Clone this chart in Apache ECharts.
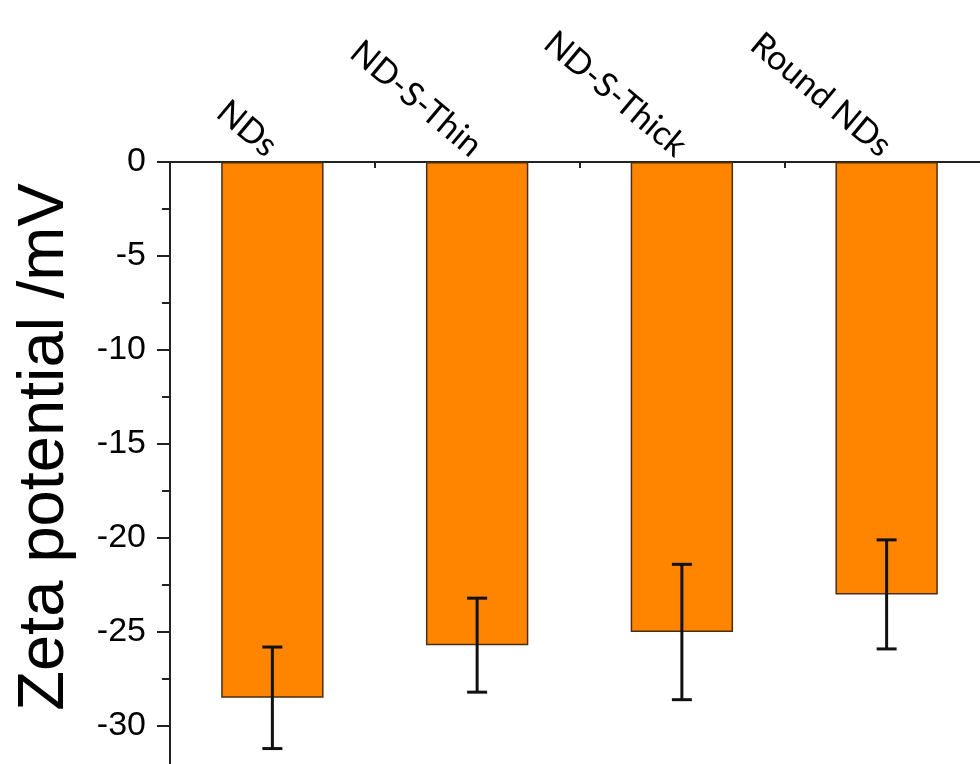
<!DOCTYPE html>
<html>
<head>
<meta charset="utf-8">
<script src="https://cdn.jsdelivr.net/npm/echarts@6/dist/echarts.min.js"></script>
<style>html,body{margin:0;padding:0;background:#fff}#c{width:980px;height:764px}</style>
</head>
<body>
<div id="c"></div>
<script>
const categories = ['NDs', 'ND-S-Thin', 'ND-S-Thick', 'Round NDs'];
const zetaMean = [-28.5, -25.7, -25.0, -23.0];
const zetaErr = [2.7, 2.5, 3.6, 2.9];
const yMin = -35, yMax = 0, yStep = 5;

const FONT = 'Liberation Sans, Arial, sans-serif';
const CAT_FONT = 'Lato, Open Sans, sans-serif';
const chart = echarts.init(document.getElementById('c'));
const errData = categories.map((c, i) => [i, zetaMean[i], zetaErr[i]]);

chart.setOption({
  animation: false,
  backgroundColor: '#fff',
  grid: { left: 170, top: 162, right: -9, bottom: -56, containLabel: false, outerBoundsMode: 'none' },
  xAxis: [{
    type: 'category', data: categories, position: 'top',
    axisLine: { onZero: false, lineStyle: { color: '#222', width: 2 } },
    axisTick: { show: true, inside: true, alignWithLabel: true, length: 13, lineStyle: { color: '#222', width: 2 } },
    axisLabel: { rotate: 40, margin: 12, fontSize: 34, color: '#000', fontFamily: CAT_FONT, interval: 0 },
    splitLine: { show: false }
  }, {
    type: 'category', data: categories, position: 'top', gridIndex: 0,
    axisLine: { show: false },
    axisTick: { show: true, inside: true, alignWithLabel: false, length: 6, lineStyle: { color: '#222', width: 2 } },
    axisLabel: { show: false },
    splitLine: { show: false }
  }],
  yAxis: {
    type: 'value', min: yMin, max: yMax, interval: yStep,
    name: 'Zeta potential /mV', nameLocation: 'middle', nameGap: 92, nameRotate: 90,
    nameTextStyle: { fontSize: 65, color: '#000', fontFamily: FONT, padding: [0, 0, 0, 88] },
    axisLine: { show: true, onZero: false, lineStyle: { color: '#222', width: 2 } },
    axisTick: { show: true, inside: false, length: 13, lineStyle: { color: '#222', width: 2 } },
    minorTick: { show: true, splitNumber: 2, length: 8, lineStyle: { color: '#222', width: 2 } },
    axisLabel: { fontSize: 34, color: '#000', fontFamily: FONT, margin: 24 },
    splitLine: { show: false }
  },
  series: [{
    type: 'bar', data: zetaMean, barWidth: '50%', xAxisIndex: 0,
    itemStyle: { color: '#FF8500', borderColor: '#4a2e14', borderWidth: 1.5 }
  }, {
    type: 'custom', xAxisIndex: 0, data: errData, z: 10,
    renderItem: function (params, api) {
      const x = api.value(0), m = api.value(1), e = api.value(2);
      const top = api.coord([x, m + e]);
      const bot = api.coord([x, m - e]);
      const hw = 10;
      const st = { stroke: '#111', lineWidth: 3 };
      return {
        type: 'group', children: [
          { type: 'line', shape: { x1: top[0], y1: top[1], x2: bot[0], y2: bot[1] }, style: st },
          { type: 'line', shape: { x1: top[0] - hw, y1: top[1], x2: top[0] + hw, y2: top[1] }, style: st },
          { type: 'line', shape: { x1: bot[0] - hw, y1: bot[1], x2: bot[0] + hw, y2: bot[1] }, style: st }
        ]
      };
    }
  }]
});
</script>
</body>
</html>
